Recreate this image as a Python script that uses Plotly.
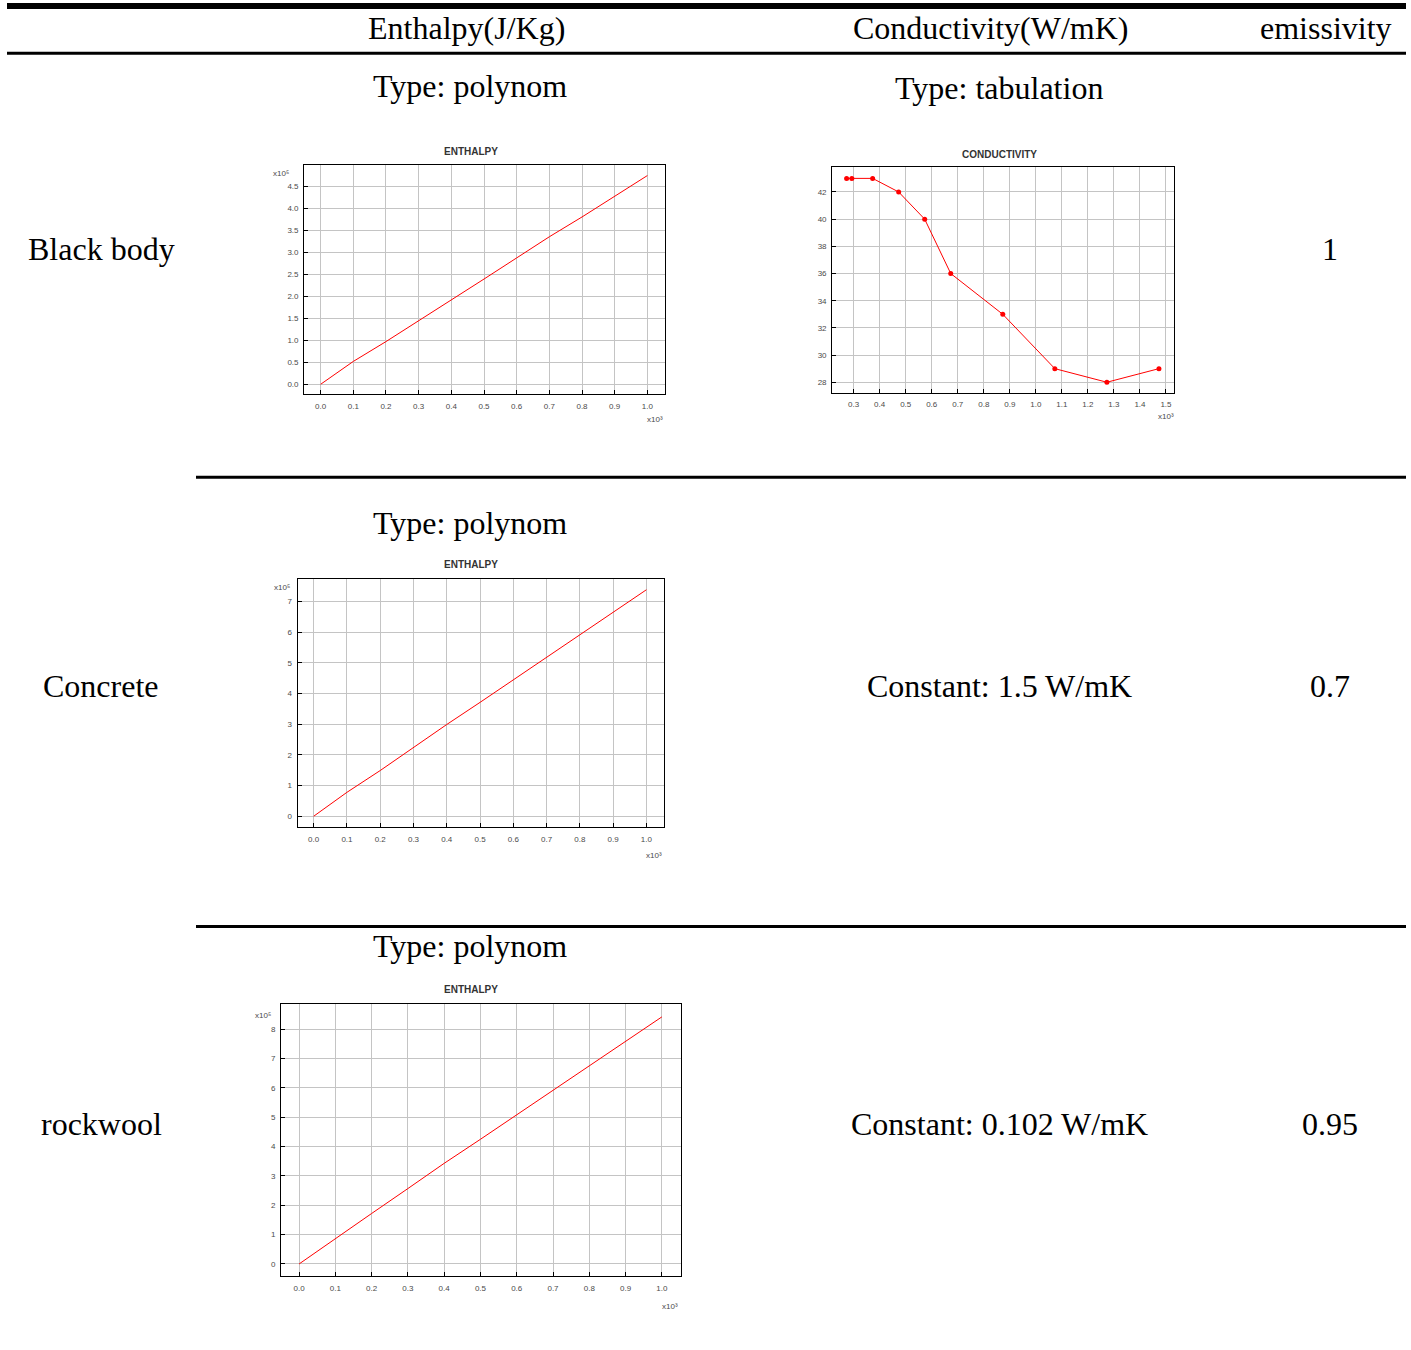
import numpy as np
import plotly.graph_objects as go

W, H = 1411, 1350

# ---- data -------------------------------------------------------------
temp_k = [0, 100, 200, 300, 400, 500, 600, 700, 800, 900, 1000]

# enthalpy in J/kg (polynomial fits)
h_black_body = [0, 0.52e5, 0.97e5, 1.44e5, 1.92e5, 2.39e5, 2.87e5, 3.35e5, 3.80e5, 4.27e5, 4.74e5]
h_concrete = [0, 0.78e5, 1.49e5, 2.25e5, 2.99e5, 3.71e5, 4.44e5, 5.18e5, 5.92e5, 6.64e5, 7.38e5]
h_rockwool = [0, 0.875e5, 1.72e5, 2.57e5, 3.43e5, 4.25e5, 5.08e5, 5.94e5, 6.76e5, 7.58e5, 8.42e5]

# tabulated conductivity of the black body (W/mK)
cond_temp_k = [273, 293, 373, 473, 573, 673, 873, 1073, 1273, 1473]
cond_values = [43, 43, 43, 42, 40, 36, 33, 29, 28, 29]

materials = ["Black body", "Concrete", "rockwool"]
conductivity_text = ["Type: tabulation", "Constant: 1.5 W/mK", "Constant: 0.102 W/mK"]
emissivity_text = ["1", "0.7", "0.95"]
headers = ["Enthalpy(J/Kg)", "Conductivity(W/mK)", "emissivity"]


def px(x):
    return x / W


def py(y):
    return 1 - y / H


SERIF = "Liberation Serif"
SANS = "Liberation Sans"
RED = "#ff0000"

fig = go.Figure()

# ---- embedded charts ----------------------------------------------------
# (left, right, top, bottom) in pixels, x range, y range, tick settings
panels = [
    dict(box=(304.3, 665, 165, 394), xr=[-0.05, 1.054], yr=[-0.22, 4.98],
         xd=0.1, x0=0, yd=0.5, y0=0, yfmt=".1f"),
    dict(box=(832.3, 1174.3, 166.7, 392.7), xr=[0.218, 1.532], yr=[27.23, 43.86],
         xd=0.1, x0=0.3, yd=2, y0=28, yfmt="d"),
    dict(box=(297.7, 663.7, 578.7, 827), xr=[-0.048, 1.052], yr=[-0.35, 7.74],
         xd=0.1, x0=0, yd=1, y0=0, yfmt="d"),
    dict(box=(281.3, 680.7, 1004.3, 1276), xr=[-0.049, 1.052], yr=[-0.41, 8.85],
         xd=0.1, x0=0, yd=1, y0=0, yfmt="d"),
]

tick_font = dict(family=SANS, size=8, color="#4a4a4a")
layout_axes = {}
for i, p in enumerate(panels, start=1):
    l, r, t, b = p["box"]
    sfx = "" if i == 1 else str(i)
    common = dict(showline=True, mirror=True, linecolor="black", linewidth=1.3,
                  ticks="inside", ticklen=4, tickcolor="black", tickwidth=1,
                  showgrid=True, gridcolor="#c4c4c4", gridwidth=1, zeroline=False,
                  tickfont=tick_font, fixedrange=True)
    layout_axes["xaxis" + sfx] = dict(common, domain=[px(l), px(r)], range=p["xr"],
                                      tick0=p["x0"], dtick=p["xd"], tickformat=".1f",
                                      anchor="y" + sfx, ticklabelstandoff=4)
    layout_axes["yaxis" + sfx] = dict(common, domain=[py(b), py(t)], range=p["yr"],
                                      tick0=p["y0"], dtick=p["yd"], tickformat=p["yfmt"],
                                      anchor="x" + sfx, ticklabelstandoff=3)

t_scaled = np.array(temp_k) / 1e3
fig.add_trace(go.Scatter(x=t_scaled, y=np.array(h_black_body) / 1e5, mode="lines",
                         line=dict(color=RED, width=1), xaxis="x", yaxis="y"))
fig.add_trace(go.Scatter(x=np.array(cond_temp_k) / 1e3, y=cond_values, mode="lines+markers",
                         line=dict(color=RED, width=1), marker=dict(color=RED, size=5),
                         xaxis="x2", yaxis="y2"))
fig.add_trace(go.Scatter(x=t_scaled, y=np.array(h_concrete) / 1e5, mode="lines",
                         line=dict(color=RED, width=1), xaxis="x3", yaxis="y3"))
fig.add_trace(go.Scatter(x=t_scaled, y=np.array(h_rockwool) / 1e5, mode="lines",
                         line=dict(color=RED, width=1), xaxis="x4", yaxis="y4"))

annotations = []


def text(x, y, s, size=32, family=SERIF, color="black", bold=False, xanchor="center"):
    if bold:
        s = "<b>" + s + "</b>"
    annotations.append(dict(x=px(x), y=py(y), xref="paper", yref="paper", text=s,
                            showarrow=False, xanchor=xanchor, yanchor="middle",
                            font=dict(family=family, size=size, color=color)))


# chart titles and axis multipliers
small = dict(family=SANS, color="#4a4a4a")
text(471, 152, "ENTHALPY", size=10, family=SANS, color="#333333", bold=True)
text(999, 154, "CONDUCTIVITY", size=10, family=SANS, color="#333333", bold=True)
text(471, 564, "ENTHALPY", size=10, family=SANS, color="#333333", bold=True)
text(471, 989, "ENTHALPY", size=10, family=SANS, color="#333333", bold=True)

text(281, 174, "x10⁵", size=8, **small)
text(655, 419, "x10³", size=8, **small)
text(1166, 416, "x10³", size=8, **small)
text(282, 588, "x10⁵", size=8, **small)
text(654, 855, "x10³", size=8, **small)
text(263, 1015, "x10⁵", size=8, **small)
text(670, 1306, "x10³", size=8, **small)

# table text
text(466, 28, headers[0])
text(991, 28, headers[1])
text(1326, 28, headers[2])

row_y = [249, 686, 1124]
type_y = [86, 523, 946]
for i in range(3):
    text(101, row_y[i], materials[i])
    text(470, type_y[i], "Type: polynom")
    text(1330, row_y[i], emissivity_text[i])
text(999, 88, conductivity_text[0])
text(999.5, row_y[1], conductivity_text[1])
text(999.5, row_y[2], conductivity_text[2])

# table rules
shapes = []


def rule(x0, x1, y, w):
    shapes.append(dict(type="line", xref="paper", yref="paper", x0=px(x0), x1=px(x1),
                       y0=py(y), y1=py(y), line=dict(color="black", width=w)))


rule(7, 1406, 6, 6)
rule(7, 1406, 53.2, 3)
rule(196, 1406, 477.2, 3)
rule(196, 1406, 926.5, 3)

fig.update_layout(width=W, height=H, margin=dict(l=0, r=0, t=0, b=0),
                  paper_bgcolor="white", plot_bgcolor="white", showlegend=False,
                  annotations=annotations, shapes=shapes, **layout_axes)

fig.write_html("out.html", config={"displayModeBar": False})
